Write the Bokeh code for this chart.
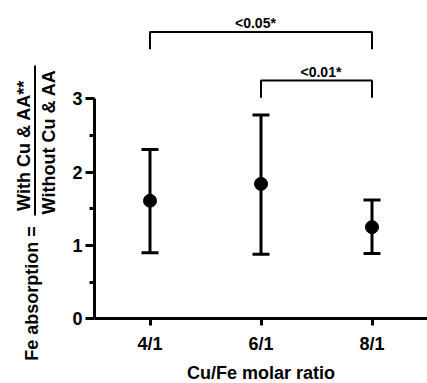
import math
from bokeh.plotting import figure
from bokeh.models import (ColumnDataSource, Whisker, TeeHead, FixedTicker, Range1d,
                          LinearAxis)
from bokeh.core.properties import value
from bokeh.embed import file_html
from bokeh.resources import INLINE

# ---- data ----
categories = ["4/1", "6/1", "8/1"]
means = [1.61, 1.84, 1.25]
lower = [0.90, 0.88, 0.89]
upper = [2.31, 2.78, 1.62]
y_ticks = [0, 1, 2, 3]
y_minor_ticks = [0.5, 1.5, 2.5]
comparisons = [("4/1", "8/1"), ("6/1", "8/1")]
p_labels = ["<0.05*", "<0.01*"]
y_label_parts = ["Fe absorption =", "With Cu & AA**", "Without Cu & AA"]
x_label = "Cu/Fe molar ratio"

# ---- layout constants (pixel geometry of the canvas) ----
FONT = "Liberation Sans"
W, H = 427, 383
AX_X_PX, AX_Y_PX = 94.0, 318.3      # where the axes cross
PX_PER_X, PX_PER_Y = 111.0, 73.33   # scale of one unit
X_START = 0.5                       # x value at the y axis

def sx(px):
    return (px - AX_X_PX) / PX_PER_X + X_START

def sy(py):
    return (AX_Y_PX - py) / PX_PER_Y

bracket_levels = [3.91, 3.25]
bracket_leg = 0.235
label_levels = [4.04, 3.372]
label_dx = [-0.05, 0.04]

xpos = list(range(1, len(categories) + 1))
xmap = dict(zip(categories, xpos))

p = figure(width=W, height=H, x_range=Range1d(sx(0), sx(W)), y_range=Range1d(sy(H), sy(0)),
           output_backend="svg", toolbar_location=None,
           x_axis_location=None, y_axis_location=None,
           min_border_left=0, min_border_right=0, min_border_top=0, min_border_bottom=0)
p.outline_line_color = None
p.grid.visible = False
p.background_fill_color = "white"
p.border_fill_color = "white"

# x axis, crossing at y = 0
xa = LinearAxis(fixed_location=0, bounds=(X_START, len(categories) + 0.5))
xa.ticker = FixedTicker(ticks=xpos, minor_ticks=[])
xa.major_label_overrides = {x: c for x, c in zip(xpos, categories)}
xa.axis_label = x_label
xa.axis_label_text_font = FONT
xa.axis_label_text_font_style = "bold"
xa.axis_label_text_font_size = "18px"
xa.axis_label_text_color = "black"
xa.axis_label_standoff = 6
xa.major_label_text_font = FONT
xa.major_label_text_font_style = "bold"
xa.major_label_text_font_size = "18px"
xa.major_label_text_color = "black"
xa.major_label_standoff = 8
xa.axis_line_width = 3
xa.axis_line_color = "black"
xa.major_tick_line_width = 3
xa.major_tick_line_color = "black"
xa.major_tick_in = 0
xa.major_tick_out = 7
p.add_layout(xa, "below")

# y axis, crossing at the left end of the x axis
ya = LinearAxis(fixed_location=X_START, bounds=(0, 3))
ya.ticker = FixedTicker(ticks=y_ticks, minor_ticks=y_minor_ticks)
ya.major_label_text_font = FONT
ya.major_label_text_font_style = "bold"
ya.major_label_text_font_size = "18px"
ya.major_label_text_color = "black"
ya.major_label_standoff = 3
ya.axis_line_width = 3
ya.axis_line_color = "black"
ya.major_tick_line_width = 3
ya.minor_tick_line_width = 3
ya.major_tick_line_color = "black"
ya.minor_tick_line_color = "black"
ya.major_tick_in = 0
ya.major_tick_out = 9
ya.minor_tick_in = 0
ya.minor_tick_out = 5
p.add_layout(ya, "left")

# error bars and means
src = ColumnDataSource(dict(x=xpos, mean=means, lower=lower, upper=upper))
wh = Whisker(base="x", upper="upper", lower="lower", source=src, line_width=3,
             line_color="black",
             upper_head=TeeHead(size=17, line_width=3, line_color="black"),
             lower_head=TeeHead(size=17, line_width=3, line_color="black"))
p.add_layout(wh)
p.scatter("x", "mean", source=src, size=13, color="black")

# significance brackets
bxs, bys, lx = [], [], []
for (a, b), lev, dx in zip(comparisons, bracket_levels, label_dx):
    xa_, xb_ = xmap[a], xmap[b]
    bxs.append([xa_, xa_, xb_, xb_])
    bys.append([lev - bracket_leg, lev, lev, lev - bracket_leg])
    lx.append((xa_ + xb_) / 2 + dx)
p.multi_line(bxs, bys, line_width=2, line_color="black")
p.text(x=lx, y=label_levels, text=p_labels, text_font=value(FONT),
       text_font_style="bold", text_font_size="14px", text_align="center",
       text_baseline="alphabetic", text_color="black")

# y label: Fe absorption = (With Cu & AA**) / (Without Cu & AA)
lab_px = [31, 23.5, 48]          # rotated text anchors
lab_py = [293, 145, 141.5]       # centres along the text
p.text(x=[sx(v) for v in lab_px], y=[sy(v) for v in lab_py], text=y_label_parts,
       angle=math.pi / 2, text_font=value(FONT), text_font_style="bold",
       text_font_size="18px", text_align="center", text_baseline="alphabetic",
       text_color="black")
p.segment(x0=[sx(34.5)], y0=[sy(215)], x1=[sx(34.5)], y1=[sy(65)],
          line_width=2, line_color="black")

open("out.html", "w").write(file_html(p, INLINE))
